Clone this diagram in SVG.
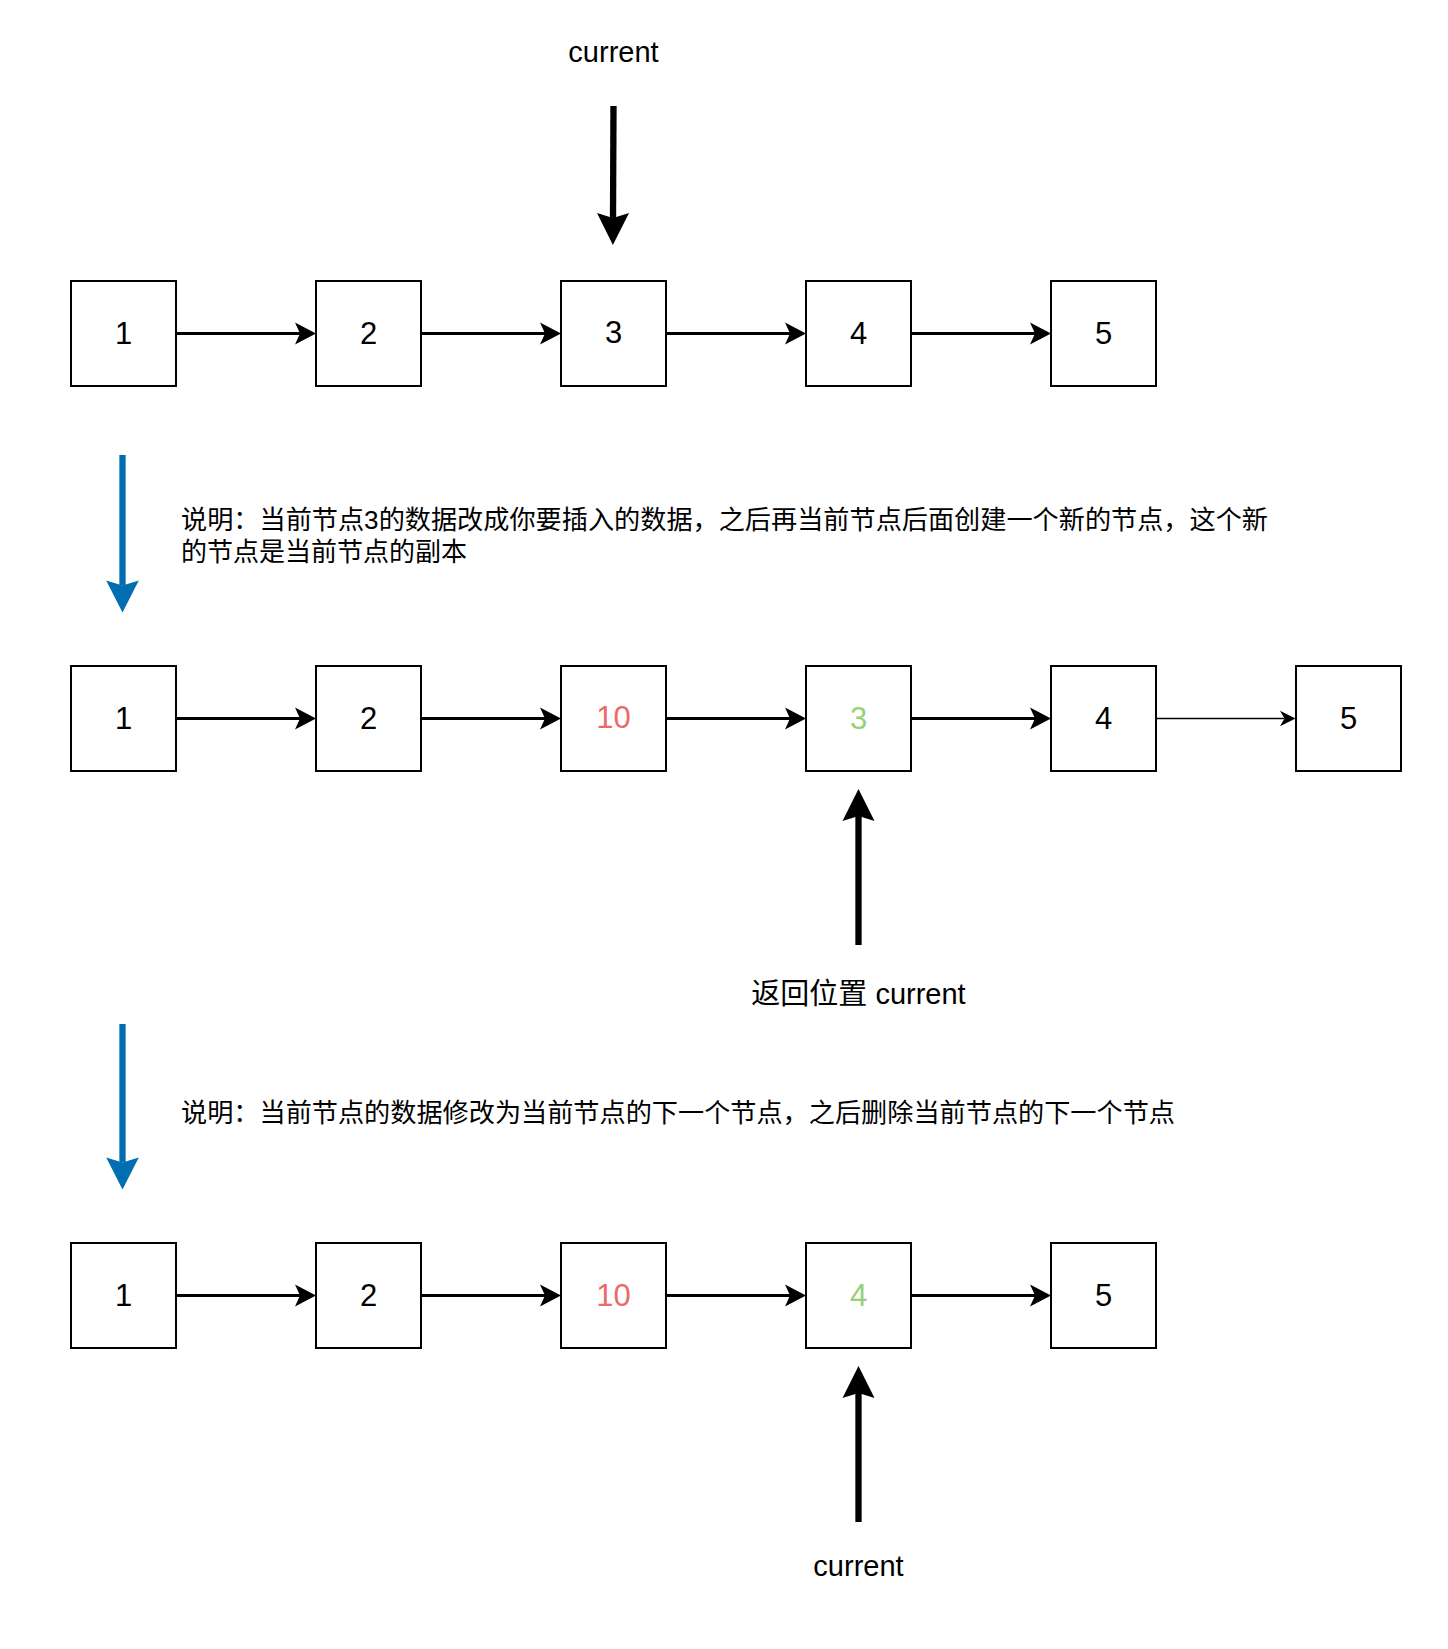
<svg xmlns="http://www.w3.org/2000/svg" width="1448" height="1649" viewBox="0 0 1448 1649">
<style>
.box{fill:#ffffff;stroke:#000000;stroke-width:2}
.num{font-family:"Liberation Sans",Arial,sans-serif;font-size:31px;text-anchor:middle;fill:#000000}
.red{fill:#EA6B66}
.green{fill:#97D077}
.lbl{font-family:"Liberation Sans","Noto Sans CJK SC",sans-serif;font-size:29px;text-anchor:middle;fill:#000000}
.desc{font-family:"Liberation Sans","Noto Sans CJK SC",sans-serif;font-size:26px;fill:#000000}
.link{fill:none;stroke:#000000;stroke-width:3;marker-end:url(#arrowM)}
.thin{fill:none;stroke:#000000;stroke-width:1.4;marker-end:url(#arrowS)}
.ptr{fill:none;stroke:#000000;stroke-width:6.3;marker-end:url(#arrowL)}
.step{fill:none;stroke:#006EAF;stroke-width:6.3;marker-end:url(#arrowB)}
</style>
<defs>
<marker id="arrowM" markerUnits="userSpaceOnUse" markerWidth="22" markerHeight="22" refX="5" refY="11" orient="auto" overflow="visible">
<path d="M0,0 L21,11 L0,22 L5,11 Z" fill="#000000"/>
</marker>
<marker id="arrowS" markerUnits="userSpaceOnUse" markerWidth="16" markerHeight="16" refX="4.5" refY="7.75" orient="auto" overflow="visible">
<path d="M0,0 L15.5,7.75 L0,15.5 L4.5,7.75 Z" fill="#000000"/>
</marker>
<marker id="arrowL" markerUnits="userSpaceOnUse" markerWidth="33" markerHeight="33" refX="5" refY="16" orient="auto" overflow="visible">
<path d="M0,0 L32,16 L0,32 L5,16 Z" fill="#000000"/>
</marker>
<marker id="arrowB" markerUnits="userSpaceOnUse" markerWidth="33" markerHeight="33" refX="5" refY="16.3" orient="auto" overflow="visible">
<path d="M0,0 L32,16.3 L0,32.6 L5,16.3 Z" fill="#006EAF"/>
</marker>
</defs>
<rect x="0" y="0" width="1448" height="1649" fill="#ffffff"/>

<g id="connectors">
<!-- row 1 -->
<path class="link" d="M176,333.5 H300"/>
<path class="link" d="M421,333.5 H545"/>
<path class="link" d="M666,333.5 H790"/>
<path class="link" d="M911,333.5 H1035"/>
<!-- row 2 -->
<path class="link" d="M176,718.5 H300"/>
<path class="link" d="M421,718.5 H545"/>
<path class="link" d="M666,718.5 H790"/>
<path class="link" d="M911,718.5 H1035"/>
<path class="thin" d="M1156,718.5 H1284.5"/>
<!-- row 3 -->
<path class="link" d="M176,1295.5 H300"/>
<path class="link" d="M421,1295.5 H545"/>
<path class="link" d="M666,1295.5 H790"/>
<path class="link" d="M911,1295.5 H1035"/>
<!-- pointers -->
<path class="ptr" d="M613.5,106 L613,218"/>
<path class="ptr" d="M858.5,945 L858.5,816"/>
<path class="ptr" d="M858.5,1522 L858.5,1393"/>
<!-- step arrows -->
<path class="step" d="M122.5,455 V585.5"/>
<path class="step" d="M122.5,1024 V1162.5"/>
</g>

<g id="row1">
<g id="r1n1"><rect class="box" x="71" y="281" width="105" height="105"/><text class="num" x="123.5" y="344">1</text></g>
<g id="r1n2"><rect class="box" x="316" y="281" width="105" height="105"/><text class="num" x="368.5" y="344">2</text></g>
<g id="r1n3"><rect class="box" x="561" y="281" width="105" height="105"/><text class="num" x="613.5" y="343">3</text></g>
<g id="r1n4"><rect class="box" x="806" y="281" width="105" height="105"/><text class="num" x="858.5" y="344">4</text></g>
<g id="r1n5"><rect class="box" x="1051" y="281" width="105" height="105"/><text class="num" x="1103.5" y="344">5</text></g>
</g>

<g id="row2">
<g id="r2n1"><rect class="box" x="71" y="666" width="105" height="105"/><text class="num" x="123.5" y="729">1</text></g>
<g id="r2n2"><rect class="box" x="316" y="666" width="105" height="105"/><text class="num" x="368.5" y="729">2</text></g>
<g id="r2n3"><rect class="box" x="561" y="666" width="105" height="105"/><text class="num red" x="613.5" y="728">10</text></g>
<g id="r2n4"><rect class="box" x="806" y="666" width="105" height="105"/><text class="num green" x="858.5" y="729">3</text></g>
<g id="r2n5"><rect class="box" x="1051" y="666" width="105" height="105"/><text class="num" x="1103.5" y="729">4</text></g>
<g id="r2n6"><rect class="box" x="1296" y="666" width="105" height="105"/><text class="num" x="1348.5" y="729">5</text></g>
</g>

<g id="row3">
<g id="r3n1"><rect class="box" x="71" y="1243" width="105" height="105"/><text class="num" x="123.5" y="1306">1</text></g>
<g id="r3n2"><rect class="box" x="316" y="1243" width="105" height="105"/><text class="num" x="368.5" y="1306">2</text></g>
<g id="r3n3"><rect class="box" x="561" y="1243" width="105" height="105"/><text class="num red" x="613.5" y="1306">10</text></g>
<g id="r3n4"><rect class="box" x="806" y="1243" width="105" height="105"/><text class="num green" x="858.5" y="1306">4</text></g>
<g id="r3n5"><rect class="box" x="1051" y="1243" width="105" height="105"/><text class="num" x="1103.5" y="1306">5</text></g>
</g>

<g id="label-current-top"><text class="lbl" x="613.5" y="62">current</text></g>
<g id="label-return"><text class="lbl" x="858.5" y="1004">返回位置 current</text></g>
<g id="label-current-bottom"><text class="lbl" x="858.5" y="1576">current</text></g>

<g id="desc1">
<text class="desc" x="181" y="529" textLength="1087" lengthAdjust="spacingAndGlyphs">说明：当前节点3的数据改成你要插入的数据，之后再当前节点后面创建一个新的节点，这个新</text>
<text class="desc" x="181" y="561">的节点是当前节点的副本</text>
</g>
<g id="desc2">
<text class="desc" x="181" y="1122" textLength="994" lengthAdjust="spacingAndGlyphs">说明：当前节点的数据修改为当前节点的下一个节点，之后删除当前节点的下一个节点</text>
</g>
</svg>
